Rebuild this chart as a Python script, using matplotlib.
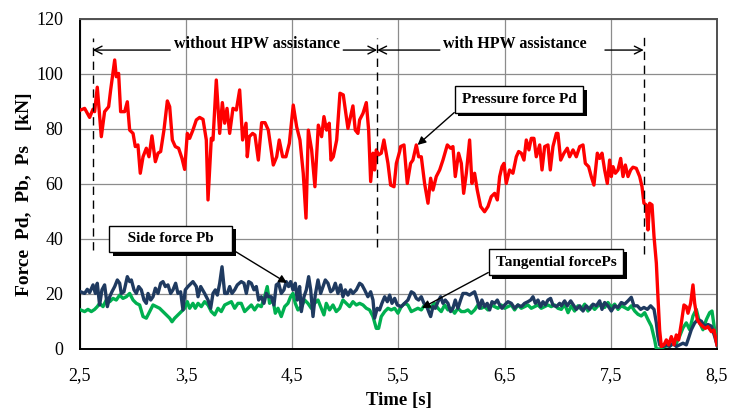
import matplotlib
matplotlib.use("Agg")
import matplotlib.pyplot as plt
import matplotlib.patheffects as pe

# ---------------- data ----------------
pd_t = [2.506, 2.544, 2.591, 2.623, 2.638, 2.663, 2.701, 2.732, 2.770, 2.789, 2.827, 2.842, 2.864, 2.883,
        2.921, 2.946, 2.968, 3.000, 3.021, 3.046, 3.068, 3.094, 3.125, 3.150, 3.178, 3.210, 3.235, 3.260,
        3.291, 3.323, 3.345, 3.370, 3.398, 3.429, 3.461, 3.486, 3.511, 3.533, 3.564, 3.596, 3.627, 3.659,
        3.690, 3.706, 3.737, 3.753, 3.784, 3.816, 3.841, 3.863, 3.885, 3.910, 3.941, 3.973, 4.004,
        4.032, 4.064, 4.076, 4.095, 4.126, 4.148, 4.180, 4.211, 4.243, 4.274, 4.296, 4.321, 4.353, 4.377,
        4.409, 4.440, 4.472, 4.509, 4.541, 4.572, 4.603, 4.629, 4.651, 4.682, 4.713, 4.745, 4.776, 4.798,
        4.823, 4.848, 4.864, 4.886, 4.918, 4.949, 4.980,
        5.024, 5.071, 5.093, 5.118, 5.134, 5.166, 5.197, 5.219, 5.238, 5.260, 5.275, 5.291, 5.313, 5.338,
        5.363, 5.385, 5.401, 5.426, 5.458, 5.480, 5.511,
        5.520, 5.552, 5.583, 5.614, 5.636, 5.668, 5.690, 5.715, 5.746, 5.778, 5.803, 5.825, 5.856, 5.888,
        5.919, 5.960, 5.991, 6.013, 6.035, 6.066, 6.092, 6.114, 6.139, 6.170, 6.192, 6.217, 6.242, 6.274,
        6.311, 6.343, 6.374, 6.406, 6.431, 6.453, 6.475, 6.494, 6.515, 6.547, 6.578, 6.610, 6.632, 6.657,
        6.682, 6.704, 6.729, 6.751, 6.776, 6.798, 6.830, 6.852, 6.877, 6.908, 6.930, 6.955, 6.987, 7.002,
        7.028, 7.059, 7.090, 7.112, 7.144, 7.175, 7.207, 7.238, 7.260, 7.291, 7.316, 7.341, 7.373, 7.395,
        7.417, 7.442, 7.467, 7.489, 7.505, 7.521, 7.543, 7.568, 7.593, 7.615, 7.637, 7.662, 7.687, 7.709,
        7.740, 7.772, 7.794, 7.812, 7.834, 7.850, 7.866, 7.888, 7.907, 7.929, 7.944, 7.960, 7.976, 8.001,
        8.023, 8.045, 8.070, 8.095, 8.117, 8.139, 8.164, 8.189, 8.211, 8.227, 8.252, 8.274, 8.290, 8.315,
        8.337, 8.368, 8.390, 8.415, 8.447, 8.472, 8.500]
pd_v = [86.9, 87.5, 84.2, 87.2, 86.3, 95.2, 77.2, 86.3, 88.1, 94.2, 105.1, 99.0, 100.2, 86.3,
        86.3, 89.9, 79.6, 78.4, 73.6, 74.2, 63.9, 69.9, 73.0, 69.9, 77.5, 68.1, 71.2, 71.8,
        79.6, 90.2, 88.1, 76.0, 73.6, 73.0, 69.3, 65.3, 78.4, 76.6, 79.6, 83.3, 84.2, 83.5,
        76.0, 54.2, 76.6, 76.0, 97.8, 78.4, 89.6, 82.1, 87.5, 78.4, 87.5, 86.9, 94.2,
        76.0, 82.1, 69.9, 77.2, 78.4, 77.8, 68.7, 82.3, 82.3, 79.6, 73.6, 66.9, 69.9, 76.0,
        69.9, 69.9, 74.8, 88.7, 80.8, 76.0, 63.9, 47.6, 79.6, 72.4, 59.0, 81.4, 77.2, 84.5,
        79.6, 82.1, 68.7, 69.9, 76.0, 93.0, 92.4,
        80.2, 88.4, 79.6, 78.4, 83.3, 85.7, 89.6, 79.6, 60.9, 71.2, 65.1, 72.4, 70.6, 71.2,
        76.0, 71.2, 67.5, 59.6, 59.0, 67.5, 71.8,
        73.6, 74.2, 60.2, 67.5, 68.7, 74.2, 69.9, 69.9, 60.2, 53.0, 62.1, 57.8, 62.7, 65.1,
        68.7, 74.2, 73.0, 73.6, 62.7, 71.2, 67.5, 56.6, 63.9, 76.0, 60.2, 63.9, 57.8, 51.8,
        49.9, 51.8, 55.4, 56.6, 54.2, 62.7, 66.3, 67.5, 60.2, 65.1, 63.9, 69.9, 71.8, 71.2,
        68.7, 76.0, 72.4, 76.6, 76.6, 69.9, 74.2, 65.1, 73.6, 74.2, 65.1, 73.6, 78.4, 78.4,
        68.7, 71.2, 73.0, 69.9, 72.4, 69.9, 73.6, 74.2, 67.5, 66.3, 62.7, 59.6, 71.2, 69.3,
        71.2, 65.1, 60.2, 68.7, 62.7, 66.3, 63.9, 65.1, 69.3, 62.7, 66.9, 62.7, 65.1, 66.1,
        65.7, 62.7, 59.0, 53.0, 52.4, 43.3, 53.0, 52.4, 40.9, 31.2, 19.0, 6.9, 0.9, 1.5,
        3.3, 1.5, 4.5, 1.5, 5.1, 3.3, 9.3, 16.0, 15.4, 13.0, 16.6, 23.3, 16.6, 10.6,
        9.3, 8.1, 7.5, 8.1, 6.3, 6.9, 1.5]

pb_t = [2.506, 2.544, 2.569, 2.591, 2.623, 2.645, 2.663, 2.685, 2.707, 2.732, 2.758, 2.780, 2.801, 2.827,
        2.852, 2.874, 2.889, 2.914, 2.946, 2.968, 2.984, 3.009, 3.031, 3.053, 3.078, 3.103, 3.125, 3.141,
        3.166, 3.188, 3.210, 3.235, 3.260, 3.282, 3.304, 3.329, 3.354, 3.376, 3.401, 3.423, 3.448, 3.470,
        3.492, 3.517, 3.564, 3.596, 3.612, 3.637, 3.674, 3.706, 3.731, 3.753, 3.775, 3.794, 3.816, 3.838,
        3.863, 3.888, 3.910, 3.932, 3.957, 3.982,
        4.019, 4.045, 4.067, 4.089, 4.114, 4.139, 4.161, 4.183, 4.208, 4.233, 4.255, 4.277, 4.302, 4.327,
        4.349, 4.371, 4.396, 4.421, 4.443, 4.465, 4.484, 4.506, 4.528, 4.547, 4.569, 4.585, 4.610, 4.632,
        4.654, 4.673, 4.695, 4.716, 4.742, 4.767, 4.789, 4.811, 4.836, 4.861, 4.883, 4.905, 4.930, 4.955,
        4.977, 4.999, 5.024, 5.049, 5.071, 5.103, 5.134, 5.156, 5.181, 5.212, 5.238, 5.260, 5.275, 5.300,
        5.322, 5.344, 5.370, 5.395, 5.417, 5.439, 5.464, 5.489,
        5.526, 5.558, 5.589, 5.621, 5.646, 5.668, 5.690, 5.715, 5.740, 5.762, 5.784, 5.803, 5.825, 5.847,
        5.872, 5.897, 5.919, 5.941, 5.966, 5.991, 6.013, 6.035, 6.060, 6.085, 6.107, 6.139, 6.170, 6.192,
        6.217, 6.242, 6.264, 6.286, 6.311, 6.336, 6.359, 6.381, 6.406, 6.431, 6.453, 6.475, 6.500, 6.531,
        6.563, 6.594, 6.625, 6.657, 6.688, 6.720, 6.745, 6.767, 6.789, 6.814, 6.839, 6.861, 6.883, 6.908,
        6.933, 6.955, 6.987, 7.018,
        7.034, 7.065, 7.090, 7.122, 7.153, 7.175, 7.207, 7.238, 7.269, 7.301, 7.332, 7.364, 7.395, 7.417,
        7.442, 7.473, 7.505, 7.536, 7.568, 7.599, 7.630, 7.662, 7.693, 7.718, 7.750, 7.781, 7.812, 7.844,
        7.875, 7.907, 7.929, 7.944, 7.960, 7.991, 8.023, 8.054, 8.086, 8.117, 8.148, 8.180, 8.211, 8.233,
        8.258, 8.290, 8.321, 8.353, 8.384, 8.415, 8.447, 8.478, 8.500]
pb_v = [20.8, 20.2, 21.7, 20.5, 23.3, 20.2, 23.9, 16.0, 21.5, 23.3, 15.4, 19.0, 20.8, 22.7,
        25.1, 23.9, 20.2, 20.8, 26.3, 24.5, 25.1, 21.5, 20.2, 22.7, 21.5, 17.8, 16.6, 20.2,
        17.8, 19.0, 22.1, 20.2, 23.9, 24.5, 22.7, 23.3, 20.2, 21.5, 23.9, 20.2, 20.8, 14.2,
        21.5, 22.7, 24.5, 22.7, 19.0, 22.7, 20.2, 17.8, 14.8, 20.2, 21.5, 19.6, 23.9, 29.9,
        20.2, 20.2, 22.7, 20.2, 21.5, 23.3,
        24.5, 23.9, 20.2, 24.5, 23.9, 21.5, 22.7, 17.8, 19.0, 16.6, 20.2, 19.0, 19.0, 16.0,
        23.3, 23.9, 20.2, 21.5, 24.5, 22.7, 24.5, 21.5, 23.9, 17.8, 22.7, 13.6, 19.0, 21.5,
        26.3, 21.5, 11.8, 19.6, 25.1, 20.2, 22.7, 25.1, 23.9, 20.8, 21.5, 23.9, 20.2, 23.3,
        19.0, 21.5, 19.6, 21.5, 20.2, 21.5, 23.9, 23.3, 21.5, 19.0, 20.8, 17.8, 11.2, 14.8,
        14.2, 16.6, 19.0, 17.2, 19.6, 16.6, 18.4, 16.0,
        15.4, 16.6, 17.8, 20.8, 20.2, 18.4, 17.8, 19.0, 16.6, 16.0, 13.6, 11.8, 15.4, 14.8,
        17.2, 19.0, 16.6, 17.8, 16.6, 13.6, 14.8, 17.8, 14.8, 17.8, 20.2, 20.2, 19.6, 20.2,
        20.8, 17.8, 14.8, 17.8, 15.4, 16.6, 14.2, 17.2, 16.6, 17.8, 16.0, 14.8, 16.0, 17.2,
        16.6, 14.8, 16.0, 15.4, 16.6, 17.2, 17.8, 19.0, 16.6, 17.8, 15.4, 17.2, 16.0, 17.8,
        18.4, 16.0, 15.4, 16.6,
        15.7, 17.5, 15.7, 17.5, 15.7, 14.4, 15.7, 13.8, 15.7, 14.4, 16.3, 15.7, 17.5, 14.4,
        16.9, 15.7, 13.8, 15.7, 15.1, 16.9, 16.3, 17.5, 18.8, 15.7, 15.7, 14.4, 15.1, 14.4,
        15.7, 14.4, 9.5, 4.6, 1.5, 0.9, 1.5, 0.9, 2.1, 0.9, 1.5, 2.1, 1.5, 4.0,
        7.0, 9.5, 10.7, 10.1, 8.3, 8.9, 8.3, 4.6, 1.5]

ps_t = [2.506, 2.544, 2.575, 2.607, 2.638, 2.663, 2.685, 2.717, 2.748, 2.780, 2.811, 2.842, 2.874, 2.905,
        2.937, 2.968, 3.000, 3.031, 3.062, 3.094, 3.125, 3.156, 3.188, 3.219, 3.250, 3.282, 3.313, 3.345,
        3.367, 3.392, 3.423, 3.455, 3.486, 3.511, 3.533, 3.564, 3.586, 3.612, 3.643, 3.674, 3.706, 3.737,
        3.769, 3.800, 3.831, 3.863, 3.894, 3.926, 3.957, 3.988,
        4.019, 4.051, 4.082, 4.114, 4.145, 4.176, 4.208, 4.239, 4.264, 4.286, 4.318, 4.340, 4.365, 4.396,
        4.428, 4.459, 4.484, 4.506, 4.528, 4.553, 4.585, 4.616, 4.647, 4.679, 4.710, 4.742, 4.767, 4.798,
        4.820, 4.851, 4.883, 4.914, 4.946, 4.977, 5.009, 5.040, 5.071, 5.103, 5.134, 5.166, 5.197, 5.228,
        5.260, 5.291, 5.313, 5.338, 5.370, 5.401, 5.432, 5.464, 5.495,
        5.526, 5.558, 5.589, 5.621, 5.652, 5.683, 5.715, 5.746, 5.778, 5.809, 5.840, 5.872, 5.903, 5.935,
        5.966, 5.997, 6.029, 6.060, 6.092, 6.123, 6.154, 6.186, 6.217, 6.249, 6.280, 6.311, 6.343, 6.374,
        6.406, 6.437, 6.468, 6.500, 6.531, 6.563, 6.594, 6.625, 6.657, 6.688, 6.720, 6.751, 6.782, 6.814,
        6.845, 6.877, 6.908, 6.939, 6.971, 7.002,
        7.034, 7.065, 7.097, 7.128, 7.159, 7.191, 7.222, 7.254, 7.285, 7.316, 7.348, 7.379, 7.411, 7.442,
        7.473, 7.505, 7.536, 7.568, 7.599, 7.630, 7.662, 7.693, 7.725, 7.756, 7.787, 7.819, 7.850, 7.882,
        7.913, 7.929, 7.960, 8.007, 8.070, 8.117, 8.148, 8.180, 8.211, 8.243, 8.274, 8.305, 8.337, 8.368,
        8.400, 8.431, 8.453, 8.478, 8.500]
ps_v = [14.2, 13.6, 14.4, 13.6, 14.4, 15.4, 16.6, 15.4, 17.8, 17.2, 18.4, 17.8, 19.6, 18.4,
        19.0, 20.2, 17.8, 16.6, 16.0, 11.8, 11.2, 13.6, 16.0, 15.4, 14.8, 13.6, 12.4, 11.2,
        9.9, 11.2, 12.4, 13.6, 14.8, 17.2, 14.8, 16.6, 14.8, 16.6, 15.4, 17.2, 16.0, 13.6,
        12.4, 14.8, 13.6, 16.0, 16.6, 17.2, 14.8, 16.6,
        16.6, 13.6, 14.8, 16.0, 14.2, 16.0, 15.4, 19.0, 22.7, 16.6, 17.8, 13.0, 14.8, 11.8,
        15.4, 16.6, 19.0, 20.2, 16.6, 14.2, 15.4, 17.8, 16.6, 14.8, 16.6, 17.8, 15.4, 12.4,
        16.6, 14.2, 16.0, 13.6, 14.8, 17.8, 16.6, 15.4, 17.2, 16.0, 16.6, 16.0, 14.8, 14.2,
        11.8, 7.5, 7.5, 11.8, 13.6, 14.8, 14.2, 14.8, 13.0,
        15.4, 16.6, 16.0, 13.6, 14.2, 14.8, 14.2, 16.0, 14.8, 15.4, 16.6, 14.8, 13.6, 16.0,
        14.2, 14.8, 13.0, 14.8, 13.6, 13.6, 14.2, 13.0, 14.2, 16.0, 14.8, 15.4, 14.2, 16.0,
        15.4, 14.8, 16.0, 14.8, 15.4, 16.0, 14.2, 16.0, 14.8, 15.4, 16.0, 14.8, 15.4, 16.0,
        14.8, 15.4, 16.0, 15.4, 16.0, 14.8,
        14.4, 16.3, 13.2, 15.7, 13.8, 15.7, 14.4, 16.3, 13.8, 15.7, 14.4, 15.7, 16.3, 15.1,
        16.9, 15.1, 16.3, 14.4, 15.7, 15.1, 14.4, 15.7, 13.8, 12.6, 12.0, 13.2, 10.7, 8.3,
        3.3, 0.0, 0.0, 0.9, 1.5, 2.1, 4.6, 7.7, 9.5, 7.0, 12.0, 14.4, 9.5, 7.0,
        10.7, 13.2, 13.8, 7.0, 4.6]

x_ticks = [2.5, 3.5, 4.5, 5.5, 6.5, 7.5, 8.5]
x_tick_labels = ["2,5", "3,5", "4,5", "5,5", "6,5", "7,5", "8,5"]
y_ticks = [0, 20, 40, 60, 80, 100, 120]
phase_bounds = [2.62, 5.30, 7.81]

# ---------------- figure ----------------
serif = ["Liberation Serif", "DejaVu Serif"]
plt.rcParams["font.family"] = serif

fig = plt.figure(figsize=(7.29, 4.11), dpi=100)
ax = fig.add_axes([0.1097, 0.1509, 0.8738, 0.8029])

ax.plot(pd_t, pd_v, color="#FF0000", lw=2.4, zorder=4, solid_joinstyle="round")
ax.plot(ps_t, ps_v, color="#00B050", lw=2.4, zorder=3, solid_joinstyle="round")
ax.plot(pb_t, pb_v, color="#1F3A60", lw=2.4, zorder=3.5, solid_joinstyle="round")

ax.set_xlim(2.5, 8.5)
ax.set_ylim(0, 120)
ax.set_xticks(x_ticks)
ax.set_xticklabels(x_tick_labels)
ax.set_yticks(y_ticks)
ax.tick_params(axis="both", length=0, labelsize=13)
ax.tick_params(axis="x", pad=13)
ax.tick_params(axis="y", pad=12)
ax.grid(True, color="#8c8c8c", lw=0.9)
ax.set_axisbelow(True)
for s in ["top", "right"]:
    ax.spines[s].set_color("#505050")
    ax.spines[s].set_linewidth(1.4)
for s in ["left", "bottom"]:
    ax.spines[s].set_color("black")
    ax.spines[s].set_linewidth(1.4)

ax.set_xlabel("Time [s]", fontsize=13.5, fontweight="bold", labelpad=6)
ax.set_ylabel("Force  Pd,  Pb,  Ps   [kN]", fontsize=14, fontweight="bold")
ax.yaxis.set_label_coords(-0.074, 0.47)

# phase boundaries
ax.vlines(phase_bounds[0], 36, 113, colors="black", linestyles=(0, (6, 4)), lw=1.0, zorder=5)
ax.vlines(phase_bounds[1], 37, 113, colors="black", linestyles=(0, (6, 4)), lw=1.0, zorder=5)
ax.vlines(phase_bounds[2], 34.5, 114, colors="black", linestyles=(0, (6, 4)), lw=1.0, zorder=5)

arr_y = 108.7
aprops = dict(arrowstyle="->", color="black", lw=1.0, shrinkA=0, shrinkB=0, mutation_scale=14)
ax.annotate("", xy=(phase_bounds[0], arr_y), xytext=(3.35, arr_y), arrowprops=aprops)
ax.annotate("", xy=(phase_bounds[1], arr_y), xytext=(4.98, arr_y), arrowprops=aprops)
ax.annotate("", xy=(phase_bounds[1], arr_y), xytext=(5.89, arr_y), arrowprops=aprops)
ax.annotate("", xy=(phase_bounds[2], arr_y), xytext=(7.445, arr_y), arrowprops=aprops)
ax.text(4.17, arr_y + 2.2, "without HPW assistance", ha="center", va="center",
        fontsize=11.5, fontweight="bold")
ax.text(6.60, arr_y + 2.2, "with HPW assistance", ha="center", va="center",
        fontsize=11.5, fontweight="bold")

# callouts
shadow = [pe.withSimplePatchShadow(offset=(2.5, -2.5), shadow_rgbFace="black", alpha=1.0)]
callouts = [
    ("Pressure force Pd", (6.635, 90.7), (5.68, 74.2), (0.0, 0.0)),
    ("   Side force Pb   ", (3.357, 40.0), (4.45, 24.0), (1.0, 0.0)),
    ("Tangential forcePs", (6.984, 31.6), (5.72, 14.9), (0.0, 0.0)),
]
for label, txy, tip, rel in callouts:
    a = ax.annotate(label, xy=tip, xytext=txy, ha="center", va="center",
                    fontsize=11, fontweight="bold", zorder=6,
                    bbox=dict(boxstyle="square,pad=0.45", fc="white", ec="black", lw=1.0),
                    arrowprops=dict(arrowstyle="-|>", color="black", lw=1.0,
                                    shrinkA=0, shrinkB=0, mutation_scale=12, relpos=rel))
    a.get_bbox_patch().set_path_effects(shadow)

fig.savefig("out.png", dpi=100)
